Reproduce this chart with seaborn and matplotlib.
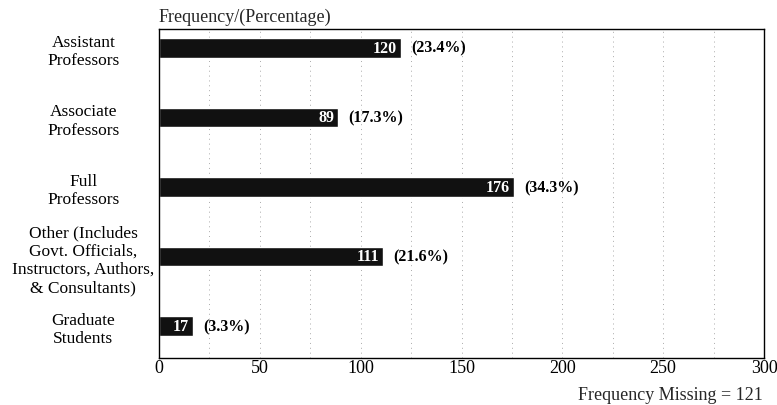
import matplotlib
matplotlib.use("Agg")
import matplotlib.pyplot as plt
import seaborn as sns
import pandas as pd

categories = [
    "Assistant\nProfessors",
    "Associate\nProfessors",
    "Full\nProfessors",
    "Other (Includes\nGovt. Officials,\nInstructors, Authors,\n& Consultants)",
    "Graduate\nStudents",
]
frequency = [120, 89, 176, 111, 17]
percentage = [23.4, 17.3, 34.3, 21.6, 3.3]
x_ticks = [0, 50, 100, 150, 200, 250, 300]
missing = 121

sns.set_theme(style="white")
plt.rcParams["font.family"] = ["Liberation Serif", "DejaVu Serif"]

df = pd.DataFrame({"group": categories, "freq": frequency, "pct": percentage})

fig = plt.figure(figsize=(7.77, 4.06), dpi=100)
ax = fig.add_axes([159 / 777, 47 / 406, 605 / 777, 329 / 406])

sns.barplot(data=df, x="freq", y="group", color="#111111", width=0.28,
            saturation=1, ax=ax, orient="h")

ax.set_xlim(0, 300)
ax.set_ylim(4.46, -0.27)
ax.set_xticks(x_ticks)
ax.set_xticks(range(25, 300, 25), minor=True)
ax.xaxis.grid(True, which="both", color="#aaaaaa", linestyle=(0, (1, 4)), linewidth=0.7)
ax.set_axisbelow(True)
ax.tick_params(axis="x", labelsize=13, length=0, pad=1, colors="black")
ax.tick_params(axis="y", labelsize=12.5, length=0, colors="black")
for lbl in ax.get_yticklabels():
    lbl.set_horizontalalignment("center")
    lbl.set_multialignment("center")
    lbl.set_x(-0.117)
ax.set_xlabel("")
ax.set_ylabel("")
for s in ax.spines.values():
    s.set_visible(True)
    s.set_color("black")
    s.set_linewidth(1.0)

for i, (f, p) in enumerate(zip(frequency, percentage)):
    ax.text(f - 2, i, f"{f}", color="white", fontweight="bold", fontsize=11.5,
            ha="right", va="center")
    ax.text(f + 5, i, f"({p}%)", color="black", fontweight="bold", fontsize=11.5,
            ha="left", va="center")

ax.text(0, 1.024, "Frequency/(Percentage)", transform=ax.transAxes,
        fontsize=13, ha="left", va="baseline")
fig.text(763 / 777, 10 / 406, f"Frequency Missing = {missing}",
         fontsize=13, ha="right", va="center")

fig.savefig("out.png", dpi=100, facecolor="white")
